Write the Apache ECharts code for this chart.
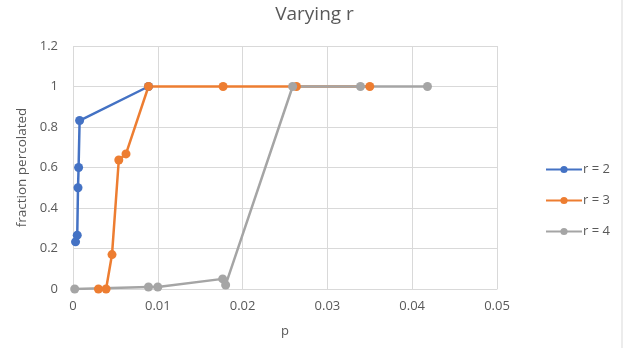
<!DOCTYPE html>
<html><head><meta charset="utf-8">
<script src="https://cdn.jsdelivr.net/npm/echarts@6/dist/echarts.min.js"></script>
<style>html,body{margin:0;padding:0;background:#fff}#c{width:629px;height:348px}</style>
</head><body><div id="c"></div>
<script>
const seriesNames = ['r = 2', 'r = 3', 'r = 4'];
const r2 = [[0.0003,0.233],[0.0005,0.266],[0.00059,0.50],[0.00066,0.60],[0.00078,0.832],[0.0089,1]];
const r3 = [[0.003,0],[0.0039,0],[0.0046,0.17],[0.0054,0.637],[0.00625,0.667],[0.0089,1],[0.0177,1],[0.02635,1],[0.035,1]];
const r4 = [[0.0002,0],[0.0089,0.01],[0.01,0.01],[0.01765,0.05],[0.018,0.02],[0.0259,1],[0.0339,1],[0.0418,1]];
const colors = ['#4472C4','#ED7D31','#A5A5A5'];
const font = 'Open Sans';
const chart = echarts.init(document.getElementById('c'));
const mk = (name, data, color) => ({
  name, type:'line', data, symbol:'circle', symbolSize:9,
  lineStyle:{width:2.5,color}, itemStyle:{color}, emphasis:{disabled:true}
});
chart.setOption({
  animation:false,
  title:{text:'Varying r', left:'center', top:0, textStyle:{fontFamily:font, fontSize:19, fontWeight:'normal', color:'#595959'}},
  grid:{left:73, right:132, top:46, bottom:59},
  legend:{orient:'vertical', left:540, top:158, itemWidth:36, itemHeight:9, itemGap:18,
    data:seriesNames, textStyle:{fontFamily:font, fontSize:13, color:'#595959', padding:[0,0,0,-4]}},
  xAxis:{type:'value', min:0, max:0.05, interval:0.01, name:'p', nameLocation:'middle', nameGap:36,
    nameTextStyle:{fontFamily:font, fontSize:13, color:'#595959'},
    axisLine:{lineStyle:{color:'#d9d9d9'}}, axisTick:{show:false},
    axisLabel:{fontFamily:font, fontSize:13, color:'#595959', margin:11},
    splitLine:{show:true, lineStyle:{color:'#d9d9d9'}}},
  yAxis:{type:'value', min:0, max:1.2, interval:0.2, name:'fraction percolated', nameLocation:'middle', nameGap:43,
    nameTextStyle:{fontFamily:font, fontSize:13.5, color:'#595959'},
    axisLine:{show:false}, axisTick:{show:false},
    axisLabel:{fontFamily:font, fontSize:13, color:'#595959', margin:15},
    splitLine:{show:true, lineStyle:{color:'#d9d9d9'}}},
  graphic:[{type:'line', shape:{x1:622, y1:0, x2:622, y2:348}, style:{stroke:'#d9d9d9', lineWidth:1}}],
  series:[mk(seriesNames[0], r2, colors[0]), mk(seriesNames[1], r3, colors[1]), mk(seriesNames[2], r4, colors[2])]
});
</script></body></html>
